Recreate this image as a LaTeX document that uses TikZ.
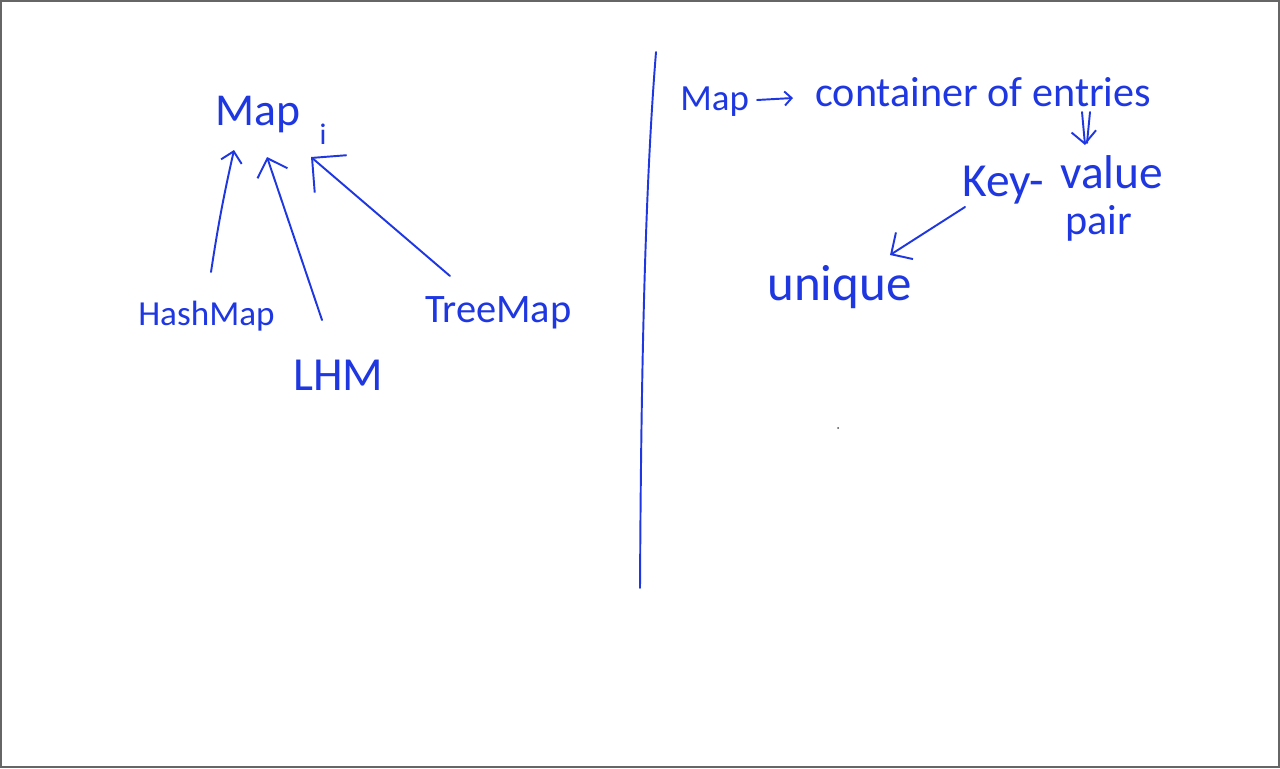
\documentclass[tikz,border=0pt]{standalone}
\usepackage{fontspec}
\setmainfont{Carlito}
\usetikzlibrary{arrows.meta,calc}

\definecolor{ink}{RGB}{30,55,225}
\tikzset{
  hand/.style={text=ink, inner sep=0pt, anchor=base west,
    font=\fontsize{#1}{#1}\selectfont},
  hand/.default=21pt,
  link/.style={draw=ink, line width=1.1pt, line cap=round,
    -{Straight Barb[length=#1,width=2*#1]}},
  link/.default=8pt,
  stroke/.style={draw=ink, line width=1.1pt, line cap=round}
}

\begin{document}
\begin{tikzpicture}[x=0.02cm,y=-0.02cm]
    \useasboundingbox (0,0) rectangle (1280,768);
    \draw[gray!80!black, line width=0.8pt] (1,1) rectangle (1279,767);

    % left side: the interface and its classes
    \node[hand=26pt] (mapi) at (215,125)
      {Map\kern11pt\raisebox{-11pt}{\fontsize{17pt}{17pt}\selectfont i}};
    \node[hand=20pt] (hash) at (138,325) {HashMap};
    \node[hand=27pt] (lhm)  at (293,390) {LHM};
    \node[hand=23pt] (tree) at (425,322) {TreeMap};

    \draw[link=6pt]  ($(hash.base west)+(73,-53)$) to[bend left=2] ($(mapi.base west)+(19,25)$);
    \draw[link=9pt]  ($(lhm.base west)+(29,-70)$) -- ($(mapi.base west)+(52,32)$);
    \draw[link=14pt] ($(tree.base west)+(25,-46)$) -- ($(mapi.base west)+(96,32)$);

    % divider
    \draw[stroke] (656,52) .. controls (644,200) and (641,400) .. (640,588);

    % right side
    \node[hand]      (mapr) at (680,110) {Map};
    \node[hand=24pt] (cont) at (815,106) {container of entries};
    \node[hand=27pt] (key)  at (962,196) {Key-\kern9pt\raisebox{4pt}{value}};
    \node[hand=24pt] (pair) at (1065,234) {pair};
    \node[hand=29pt] (uniq) at (767,300) {unique};

    \draw[link=4pt] ($(mapr.base west)+(77,-10)$) -- ($(cont.base west)+(-22,-8)$);
    \draw[link=7pt] ($(cont.base west)+(267,6)$) -- ($(key.base west)+(123,-51)$);
    \draw[stroke]   ($(cont.base west)+(275,6)$) -- ($(key.base west)+(125,-53)$);
    \draw[link=9pt] ($(key.base west)+(3,11)$) -- ($(uniq.base west)+(123,-45)$);

    \fill[gray!60!black] (838,428) circle (1);
\end{tikzpicture}
\end{document}
